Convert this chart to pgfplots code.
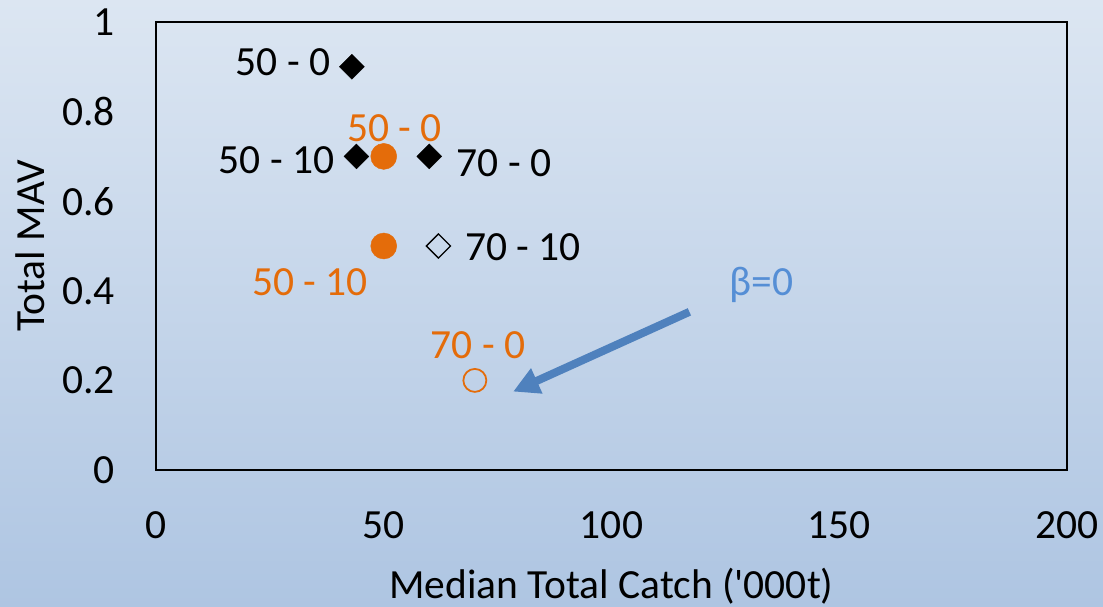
\documentclass[border=0pt]{standalone}
\usepackage{fontspec}
\setmainfont{Carlito}
\newfontfamily\plaincarlito{Carlito}
\usepackage{pgfplots}
\pgfplotsset{compat=1.18}
\usetikzlibrary{arrows.meta}
\definecolor{bgtop}{RGB}{220,230,242}
\definecolor{bgbot}{RGB}{174,197,226}
\definecolor{mavorange}{RGB}{228,108,10}
\definecolor{arrowblue}{RGB}{79,129,189}
\definecolor{betablue}{RGB}{85,142,213}
\begin{document}
\fontsize{41.5bp}{50bp}\selectfont
\begin{tikzpicture}
	\shade[top color=bgtop,bottom color=bgbot] (-156bp,-137bp) rectangle (947bp,470bp);
	\begin{axis}[
	at={(0,0)},anchor=south west,
	scale only axis,width=911bp,height=448bp,
	xmin=0,xmax=200,ymin=0,ymax=1,
	xtick={0,50,100,150,200},
	ytick={0,0.2,0.4,0.6,0.8,1},
	major tick length=0,
	axis line style={line width=1.5bp},
	/pgf/number format/assume math mode=true,
	/pgf/number format/fixed,
	xticklabel style={yshift=-28bp},
	yticklabel style={xshift=-27bp},
	xlabel={{\plaincarlito Median Total Catch ('000t)}},
	ylabel={Total MAV},
	every axis x label/.style={at={(axis description cs:0.5,0)},anchor=base,yshift=-128bp},
	every axis y label/.style={at={(axis description cs:0,0.5)},xshift=-126bp,rotate=90,anchor=center},
	clip=false
	]
	% black diamonds
	\addplot[only marks,mark=square*,mark size=8.8bp,mark options={rotate=45,fill=black,draw=black}]
	coordinates {
		(43, 0.9)
		(44, 0.7)
		(60, 0.7)
	};
	\addplot[only marks,mark=square,mark size=8.5bp,mark options={rotate=45,draw=black,line width=1.3bp}]
	coordinates {
		(62, 0.5)
	};
	% orange circles
	\addplot[only marks,mark=*,mark size=13bp,color=mavorange]
	coordinates {
		(50, 0.7)
		(50, 0.5)
	};
	\addplot[only marks,mark=o,mark size=11.5bp,mark options={line width=1.8bp},color=mavorange]
	coordinates {
		(70, 0.2)
	};
	% labels
	\node at (axis cs:27.9,0.911) {50 - 0};
	\node at (axis cs:26.5,0.691) {50 - 10};
	\node at (axis cs:76.4,0.685) {70 - 0};
	\node at (axis cs:80.6,0.497) {70 - 10};
	\node[mavorange] at (axis cs:52.4,0.764) {50 - 0};
	\node[mavorange] at (axis cs:33.8,0.419) {50 - 10};
	\node[mavorange] at (axis cs:70.7,0.279) {70 - 0};
	% arrow
	\draw[arrowblue,line width=8bp,-{Triangle[length=26bp,width=26bp]}]
		(axis cs:117.1,0.353) -- (axis cs:78.4,0.175);
	\node[betablue] at (axis cs:133,0.413) {β=0};
	\end{axis}
	\pgfresetboundingbox
	\useasboundingbox (-156bp,-137bp) rectangle (947bp,470bp);
\end{tikzpicture}
\end{document}
